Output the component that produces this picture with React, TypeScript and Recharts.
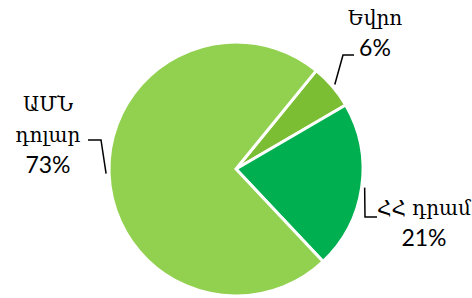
import React from 'react';
import { PieChart, Pie, Cell } from 'recharts';

const categories = ['Եվրո', 'ՀՀ դրամ', 'ԱՄՆ դոլար'];
const shares = [5.7, 21.4, 72.9];
const labelText = [['Եվրո'], ['ՀՀ դրամ'], ['ԱՄՆ', 'դոլար']];
const colors = ['#7BBD33', '#00B050', '#92D050'];

// label placement relative to the pie centre: text centre x, first baseline, leader elbow, leader end
const labelLayout = [
  { tx: 139, ty: -144, ex: 107, ey: -114, lx: 118 },
  { tx: 188, ty: 46, ex: 129, ey: 48, lx: 141 },
  { tx: -188, ty: -58, ex: -135, ey: -29, lx: -148 },
];

const data = categories.map((name, i) => ({ name, value: shares[i] }));

const RADIAN = Math.PI / 180;
const LINE_H = 31;
const ARM_FONT = "'DejaVu Serif', serif";
const NUM_FONT = "Lato, 'Liberation Sans', sans-serif";

const renderLabel = (props: any) => {
  const { cx, cy, midAngle, outerRadius, index, percent } = props;
  const L = labelLayout[index];
  const a = -midAngle * RADIAN;
  const sx = cx + (outerRadius + 3) * Math.cos(a);
  const sy = cy + (outerRadius + 3) * Math.sin(a);
  const words = labelText[index];
  const x = cx + L.tx;
  return (
    <g>
      <polyline
        points={`${sx},${sy} ${cx + L.ex},${cy + L.ey} ${cx + L.lx},${cy + L.ey}`}
        fill="none"
        stroke="#000"
        strokeWidth={1.5}
      />
      {words.map((w, i) => (
        <text key={w} x={x} y={cy + L.ty + i * LINE_H} textAnchor="middle" fill="#000"
          style={{ fontFamily: ARM_FONT, fontSize: 20 }}>
          {w}
        </text>
      ))}
      <text x={x} y={cy + L.ty + words.length * LINE_H} textAnchor="middle" fill="#000"
        style={{ fontFamily: NUM_FONT, fontSize: 23 }}>
        {`${Math.round(percent * 100)}%`}
      </text>
    </g>
  );
};

export default function App() {
  return (
    <div style={{ position: 'fixed', left: 0, top: 0, width: 472, height: 298, background: '#fff' }}>
      <PieChart width={472} height={298} margin={{ top: 0, right: 0, bottom: 0, left: 0 }}>
        <Pie
          data={data}
          dataKey="value"
          nameKey="name"
          cx={236}
          cy={169}
          outerRadius={127}
          startAngle={50.8}
          endAngle={-309.2}
          stroke="#fff"
          strokeWidth={3}
          label={renderLabel}
          labelLine={false}
          isAnimationActive={false}
        >
          {data.map((d, i) => (
            <Cell key={d.name} fill={colors[i]} />
          ))}
        </Pie>
      </PieChart>
    </div>
  );
}
